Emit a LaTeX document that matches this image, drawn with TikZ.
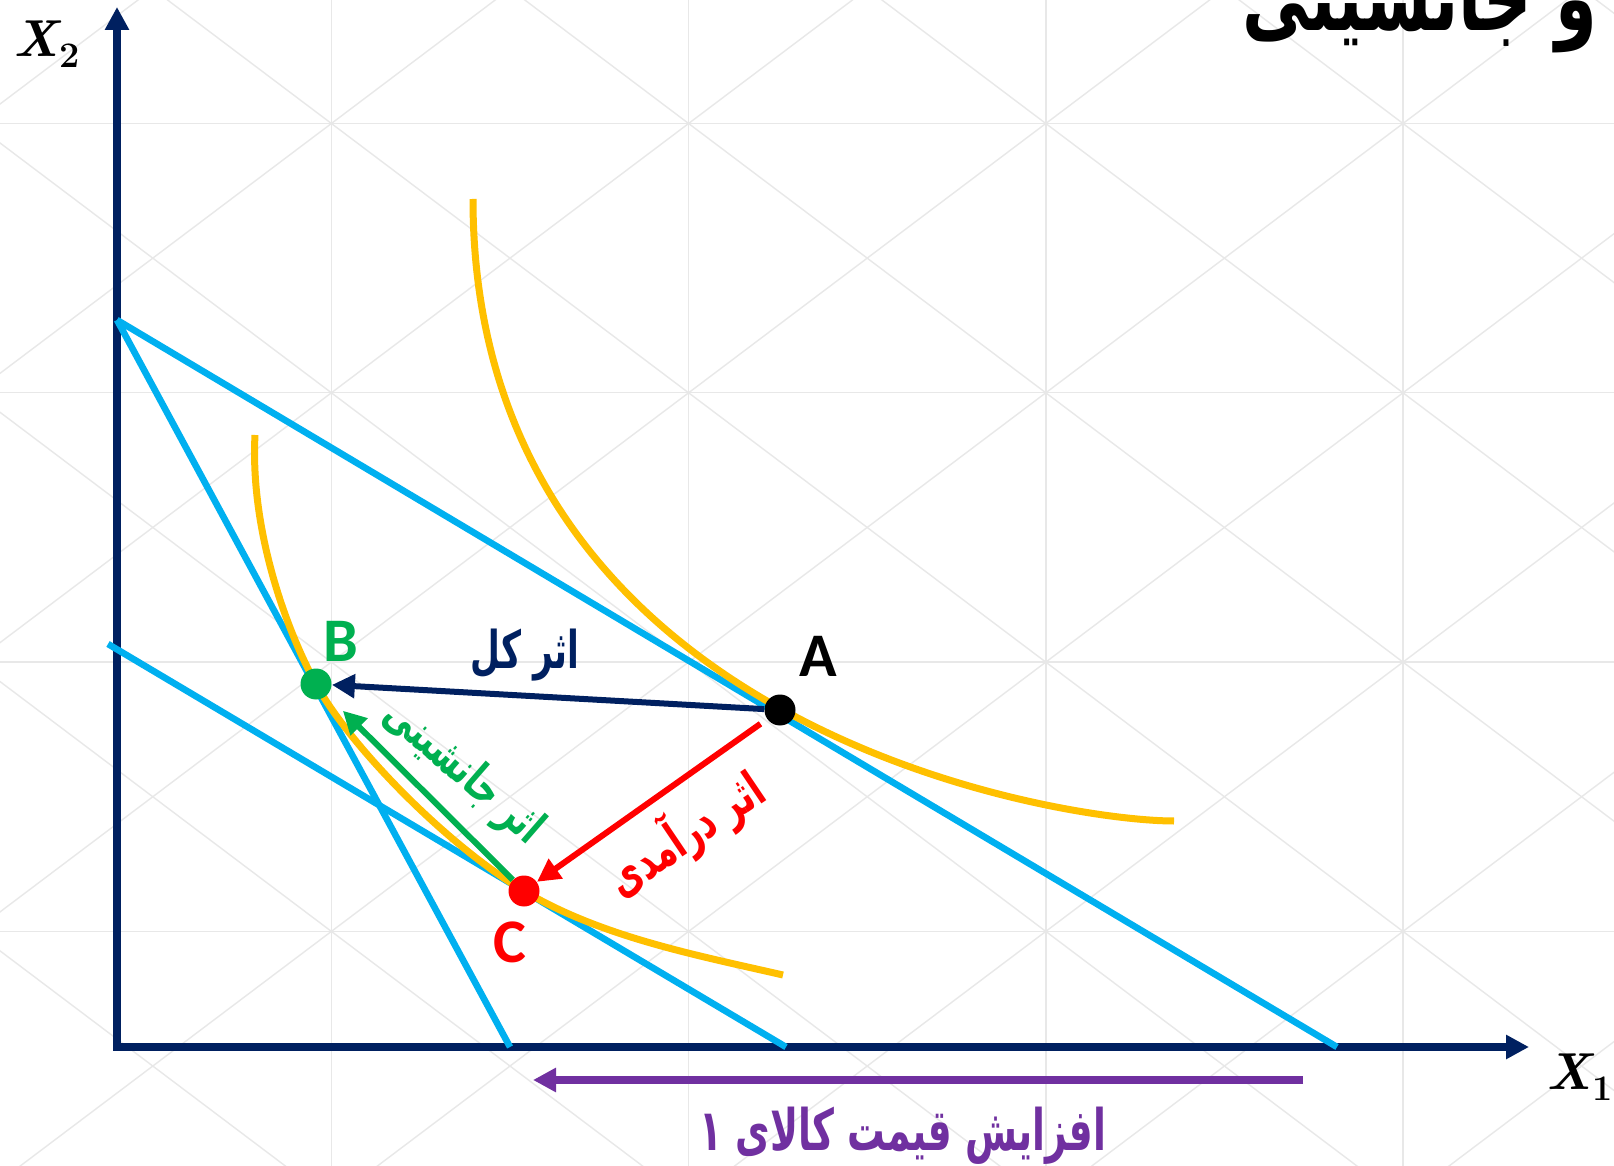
\documentclass[tikz,border=0pt]{standalone}
\usepackage{fontspec}
\usetikzlibrary{arrows.meta}
\TeXXeTstate=1
\newfontfamily\arabicfont[Script=Arabic]{DejaVu Sans}
\newfontfamily\calibri{Carlito}
\definecolor{navy}{HTML}{002060}
\definecolor{skyblue}{HTML}{00B0F0}
\definecolor{gold}{HTML}{FFC000}
\definecolor{effgreen}{HTML}{00B050}
\definecolor{effred}{HTML}{FF0000}
\definecolor{effpurple}{HTML}{7030A0}
\definecolor{gridgray}{HTML}{E8E8E8}
\tikzset{
  gridline/.style={draw=gridgray, line width=0.7pt},
  axisline/.style={draw=navy, line width=4pt},
  budget/.style={draw=skyblue, line width=3.3pt},
  indiff/.style={draw=gold, line width=3.5pt},
  dot/.style={circle, inner sep=0pt, minimum size=15.5pt},
  tip/.style={-{Triangle[length=11.5pt,width=11.5pt]}},
  effarrow/.style={line width=3pt, tip},
  ptlabel/.style={font=\calibri\bfseries\fontsize{31}{36}\selectfont, inner sep=0pt},
  fa/.style={inner sep=0pt},
  axlabel/.style={inner sep=0pt, anchor=base west, font=\fontsize{26}{30}\selectfont},
}
\newcommand{\axname}[1]{{\bfseries\itshape X}\kern0.5pt\raisebox{-5.5pt}{\fontsize{18}{20}\selectfont\bfseries #1}}
\newcommand{\fatext}[4]{\scalebox{#2}[#3]{\arabicfont\bfseries\fontsize{#1}{#1}\selectfont #4}}
\begin{document}
\begin{tikzpicture}[x=0.5pt,y=-0.5pt]
\useasboundingbox (0,0) rectangle (1614,1166);
\fill[white] (0,0) rectangle (1614,1166);
\begin{scope}
  \clip (0,0) rectangle (1614,1166);
  % background grid
  \foreach \i in {-1,...,4} \draw[gridline] ({331.4+357.2*\i},0) -- ({331.4+357.2*\i},1166);
  \foreach \j in {-1,...,4} \draw[gridline] (0,{123.5+269.3*\j}) -- (1614,{123.5+269.3*\j});
  \foreach \n in {-7,...,6}
    \draw[gridline] ({331.4+357.2*(\n-1)},{123.5-269.3}) -- ({331.4+357.2*(\n+5)},{123.5+269.3*5});
  \foreach \n in {-2,...,10}
    \draw[gridline] ({331.4+357.2*(\n+1)},{123.5-269.3}) -- ({331.4+357.2*(\n-5)},{123.5+269.3*5});
  % title (cut by the top edge)
  \node[fa, anchor=base east] (title) at (1598,31) {\fatext{40}{0.84}{1.15}{\beginR و جانشینی\endR}};
\end{scope}

% axes
\coordinate (O) at (117,1047);
\coordinate (Ytop) at (117,7);
\coordinate (Xend) at (1529,1047);
\draw[axisline, {Triangle[length=11.5pt,width=11.5pt]}-{Triangle[length=11.5pt,width=11.5pt]}] (Ytop) -- (O) -- (Xend);

% budget lines
\coordinate (P) at (117,320);
\coordinate (Q1) at (1337,1047);
\coordinate (Q2) at (510,1047);
\coordinate (R) at (108,644);
\coordinate (Q3) at (786,1047);
\draw[budget] (P) -- (Q1);
\draw[budget] (P) -- (Q2);
\draw[budget] (R) -- (Q3);

% indifference curves
\draw[indiff] (473,199) .. controls (473,728) and (1058,821) .. (1174,821);
\draw[indiff] (255,435) .. controls (250,530) and (286.4,630.3) .. (316,684)
  .. controls (349.3,745.5) and (446.6,845) .. (524,891)
  .. controls (601.4,937) and (695.7,955) .. (783,975);

% points
\node[dot, fill=black] (A) at (780,710) {};
\node[dot, fill=effgreen] (B) at (316,684) {};
\node[dot, fill=effred] (C) at (524,891) {};

% effect arrows
\draw[effarrow, navy] (A) -- (B);
\draw[effarrow, effgreen, shorten >=11pt] (C) -- (B);
\draw[effarrow, effred, shorten <=4pt] (A) -- (C);
\coordinate (pstart) at (1303,1080);
\coordinate (pend) at (533,1080);
\draw[line width=4pt, effpurple, tip] (pstart) -- (pend);

% point labels
\node[ptlabel, text=black] (lA) at (818,656) {A};
\node[ptlabel, text=effgreen] (lB) at (341,641) {B};
\node[ptlabel, text=effred] (lC) at (510,942) {C};

% axis labels
\node[axlabel] (x2) at (13,57) {\axname{2}};
\node[axlabel] (x1) at (1546,1089) {\axname{1}};

% effect texts
\node[fa, text=navy] (tkol) at (525,655) {\fatext{20}{0.86}{1.3}{\beginR اثر کل\endR}};
\node[fa, text=effgreen, rotate=-41] (tjan) at (463,773) {\fatext{19}{0.85}{1.25}{\beginR اثر جانشینی\endR}};
\node[fa, text=effred, rotate=34] (tdar) at (685,834) {\fatext{20}{0.85}{1.25}{\beginR اثر درآمدی\endR}};
\node[fa, text=effpurple] (tprice) at (903,1136) {\fatext{22}{0.855}{1.3}{\beginR افزایش قیمت کالای ۱\endR}};
\end{tikzpicture}
\end{document}
